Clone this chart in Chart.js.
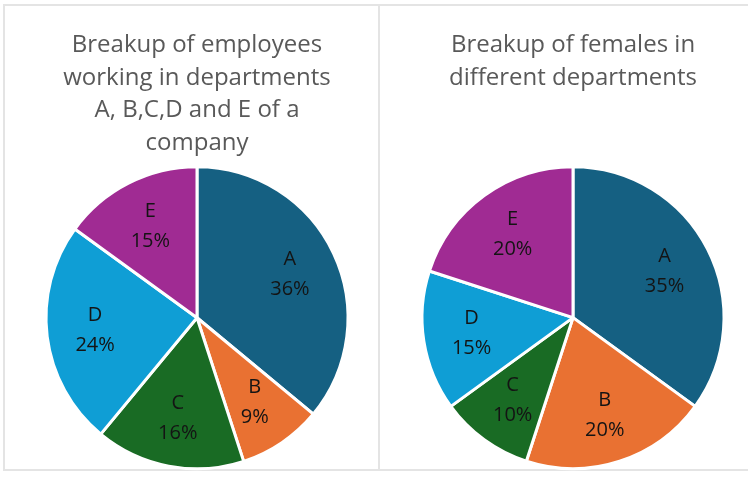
<!DOCTYPE html>
<html>
<head>
<meta charset="utf-8">
<script src="https://cdn.jsdelivr.net/npm/chart.js@4"></script>
<style>
  body { margin: 0; background: #fff; width: 748px; height: 480px; overflow: hidden; position: relative; }
  .frame { position: absolute; left: 3px; top: 4px; width: 760px; height: 467px; border: 2px solid #e4e4e4; box-sizing: border-box; }
  .divider { position: absolute; left: 378px; top: 4px; width: 2px; height: 467px; background: #e4e4e4; }
  .panel { position: absolute; top: 6px; height: 466px; }
  #leftPanel { left: 5px; width: 373px; }
  #rightPanel { left: 381px; width: 367px; }
</style>
</head>
<body>
<div class="frame"></div>
<div class="divider"></div>
<div class="panel" id="leftPanel"><canvas id="employeesChart"></canvas></div>
<div class="panel" id="rightPanel"><canvas id="femalesChart"></canvas></div>
<script>
const departments = ['A', 'B', 'C', 'D', 'E'];
const employeeShare = [36, 9, 16, 24, 15];
const femaleShare = [35, 20, 10, 15, 20];
const deptColors = ['#156082', '#E97132', '#196B24', '#0F9ED5', '#A02B93'];
const employeesTitle = ['Breakup of employees', 'working in departments', 'A, B,C,D and E of a', 'company'];
const femalesTitle = ['Breakup of females in', 'different departments'];

// draws "A" / "36%" inside each slice
const sliceLabels = {
    id: 'sliceLabels',
    afterDatasetsDraw(chart) {
        const ctx = chart.ctx;
        const meta = chart.getDatasetMeta(0);
        const values = chart.data.datasets[0].data;
        ctx.save();
        ctx.font = '20px "Open Sans", sans-serif';
        ctx.fillStyle = '#141414';
        ctx.textAlign = 'center';
        ctx.textBaseline = 'middle';
        meta.data.forEach((arc, i) => {
            const p = arc.getProps(['x', 'y', 'startAngle', 'endAngle', 'outerRadius'], true);
            const mid = (p.startAngle + p.endAngle) / 2;
            const r = p.outerRadius * 0.68;
            const cx = p.x + Math.cos(mid) * r;
            const cy = p.y + Math.sin(mid) * r;
            ctx.fillText(chart.data.labels[i], cx, cy - 15);
            ctx.fillText(values[i] + '%', cx, cy + 15);
        });
        ctx.restore();
    }
};

function createPie(canvasId, values, titleLines, titleBottom, padLeft) {
    const ctx = document.getElementById(canvasId).getContext('2d');
    return new Chart(ctx, {
        type: 'pie',
        data: {
            labels: departments,
            datasets: [{
                data: values,
                backgroundColor: deptColors,
                borderColor: '#ffffff',
                borderWidth: 3,
                hoverOffset: 0
            }]
        },
        options: {
            responsive: true,
            maintainAspectRatio: false,
            animation: false,
            radius: 151,
            layout: { padding: { left: padLeft, right: 0, top: 0, bottom: 3 } },
            plugins: {
                legend: { display: false },
                tooltip: { enabled: false },
                title: {
                    display: true,
                    text: titleLines,
                    color: '#595959',
                    font: { family: '"Open Sans", sans-serif', size: 24, weight: 'normal', lineHeight: 1.36 },
                    padding: { top: 23, bottom: titleBottom }
                }
            }
        },
        plugins: [sliceLabels]
    });
}

createPie('employeesChart', employeeShare, employeesTitle, 7, 11);
createPie('femalesChart', femaleShare, femalesTitle, 72, 17);
</script>
</body>
</html>
